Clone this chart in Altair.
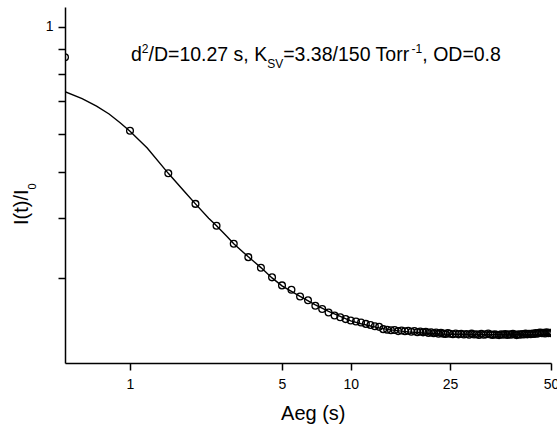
import altair as alt
import pandas as pd

FONT = "Liberation Sans"

# measured signal (open circles)
times = [0.5, 1.0, 1.5, 2.0, 2.5, 3.0, 3.5, 4.0, 4.5, 5.0,
         5.5, 6.0, 6.5, 7.0, 7.5, 8.0, 8.5, 9.0, 9.5, 10.0,
         10.5, 11.0, 11.5, 12.0, 12.5, 13.0, 13.5, 14.0, 14.5, 15.0,
         15.5, 16.0, 16.5, 17.0, 17.5, 18.0, 18.5, 19.0, 19.5, 20.0,
         20.5, 21.0, 21.5, 22.0, 22.5, 23.0, 23.5, 24.0, 24.5, 25.0,
         25.5, 26.0, 26.5, 27.0, 27.5, 28.0, 28.5, 29.0, 29.5, 30.0,
         30.5, 31.0, 31.5, 32.0, 32.5, 33.0, 33.5, 34.0, 34.5, 35.0,
         35.5, 36.0, 36.5, 37.0, 37.5, 38.0, 38.5, 39.0, 39.5, 40.0,
         40.5, 41.0, 41.5, 42.0, 42.5, 43.0, 43.5, 44.0, 44.5, 45.0,
         45.5, 46.0, 46.5, 47.0, 47.5, 48.0, 48.5, 49.0, 49.5, 50.0]
signal = [0.865, 0.608, 0.496, 0.4285, 0.386, 0.354, 0.332, 0.3155, 0.3014, 0.290,
          0.284, 0.275, 0.270, 0.263, 0.259, 0.2547, 0.251, 0.249, 0.2468, 0.2452,
          0.2440, 0.2428, 0.2412, 0.2400, 0.2385, 0.2378, 0.2352, 0.2346, 0.2340, 0.2342,
          0.2330, 0.2336, 0.2328, 0.2334, 0.2322, 0.2330, 0.2318, 0.2326, 0.2316, 0.2322,
          0.2310, 0.2318, 0.2306, 0.2314, 0.2300, 0.2310, 0.2302, 0.2298, 0.2308, 0.2300,
          0.2296, 0.2304, 0.2294, 0.2300, 0.2292, 0.2298, 0.2290, 0.2302, 0.2292, 0.2296,
          0.2288, 0.2300, 0.2290, 0.2294, 0.2304, 0.2292, 0.2288, 0.2296, 0.2290, 0.2286,
          0.2294, 0.2290, 0.2298, 0.2288, 0.2294, 0.2290, 0.2300, 0.2292, 0.2286, 0.2296,
          0.2290, 0.2298, 0.2292, 0.2302, 0.2294, 0.2300, 0.2296, 0.2304, 0.2298, 0.2308,
          0.2300, 0.2310, 0.2314, 0.2306, 0.2312, 0.2304, 0.2316, 0.2308, 0.2312, 0.2306]

# fitted curve (solid line)
fit_times = [0.5, 0.6, 0.7, 0.8, 0.9, 1.0, 1.2, 1.5, 1.8, 2.0, 2.3, 2.5, 2.8, 3.0,
             3.5, 4.0, 4.5, 5.0, 5.5, 6.0, 7.0, 8.0, 9.0, 10.0, 11.0, 12.0, 13.0,
             14.0, 15.0, 17.0, 20.0, 23.0, 25.0, 30.0, 35.0, 40.0, 45.0, 50.0]
fit_values = [0.733, 0.709, 0.684, 0.659, 0.632, 0.607, 0.560, 0.496, 0.452, 0.4285,
              0.400, 0.386, 0.366, 0.354, 0.3325, 0.3158, 0.3006, 0.2893, 0.2818, 0.2753,
              0.2642, 0.2561, 0.2500, 0.2446, 0.2414, 0.2388, 0.2366, 0.2350, 0.2338,
              0.2322, 0.2306, 0.2298, 0.2295, 0.2291, 0.2290, 0.2290, 0.2290, 0.2290]

x_ticks = [1, 5, 10, 25, 50]
y_ticks = [0.3, 0.4, 0.5, 0.6, 0.7, 0.8, 0.9, 1.0]

pts = pd.DataFrame({"t": times, "v": signal})
fit = pd.DataFrame({"t": fit_times, "v": fit_values})

W, H = 486, 356
L, T = 65, 7

xscale = alt.Scale(type="log", domain=[0.5, 1, 5, 10, 25, 50],
                   range=[0, 65, 217, 285.7, 385, 486], nice=False)
yscale = alt.Scale(type="log", domain=[0.2, 1.1], nice=False)

xaxis = alt.Axis(values=x_ticks, title="Aeg (s)", grid=False, tickSize=7,
                 tickWidth=1.5, domainWidth=1.5, domainColor="black",
                 tickColor="black", labelColor="black", labelFontSize=14,
                 labelPadding=7, labelFlush=False, labelOverlap=False,
                 labelBound=False, format="~g", titleFontSize=20,
                 titleFontWeight="normal", titleColor="black",
                 titleX=247.8, titleY=56, titleBaseline="alphabetic")
yaxis = alt.Axis(values=y_ticks, title="", grid=False, tickSize=7,
                 tickWidth=1.5, domainWidth=1.5, domainColor="black",
                 tickColor="black", labelColor="black", labelFontSize=14,
                 labelPadding=5, labelOverlap=False,
                 labelExpr="datum.value == 1 ? '1' : ''")

line = alt.Chart(fit).mark_line(color="black", strokeWidth=1.4, clip=True).encode(
    x=alt.X("t:Q", scale=xscale, axis=xaxis),
    y=alt.Y("v:Q", scale=yscale, axis=yaxis),
)
points = alt.Chart(pts).mark_point(shape="circle", filled=False, color="black",
                                   size=46, strokeWidth=1.3, opacity=1,
                                   clip=True).encode(
    x=alt.X("t:Q", scale=xscale),
    y=alt.Y("v:Q", scale=yscale),
)


def label(txt, px, py, size, angle=0):
    return alt.Chart(pd.DataFrame({"s": [txt]})).mark_text(
        text=txt, align="left", baseline="alphabetic", fontSize=size,
        font=FONT, color="black", angle=angle,
    ).encode(x=alt.value(px - L), y=alt.value(py - T))


texts = [
    label("d", 131, 61, 19.5),
    label("2", 141.8, 53, 12),
    label("/D=10.27 s, K", 148.5, 61, 19.5),
    label("SV", 267.2, 68, 12),
    label("=3.38/150 Torr", 283.2, 61, 19.5),
    label("-1", 411.6, 53, 12),
    label(", OD=0.8", 422.3, 61, 19.5),
    label("I(t)/I", 28, 225, 20, 270),
    label("0", 36, 189.4, 11, 270),
]

chart = alt.layer(line, points, *texts).properties(
    width=W, height=H,
    autosize=alt.AutoSizeParams(type="none"),
    padding={"left": L, "top": T, "right": 557 - L - W, "bottom": 427 - T - H},
    background="white",
).configure_view(stroke="transparent").configure_axis(
    labelFont=FONT, titleFont=FONT
)

chart.save("out.html", embed_options={"renderer": "svg", "actions": False})
